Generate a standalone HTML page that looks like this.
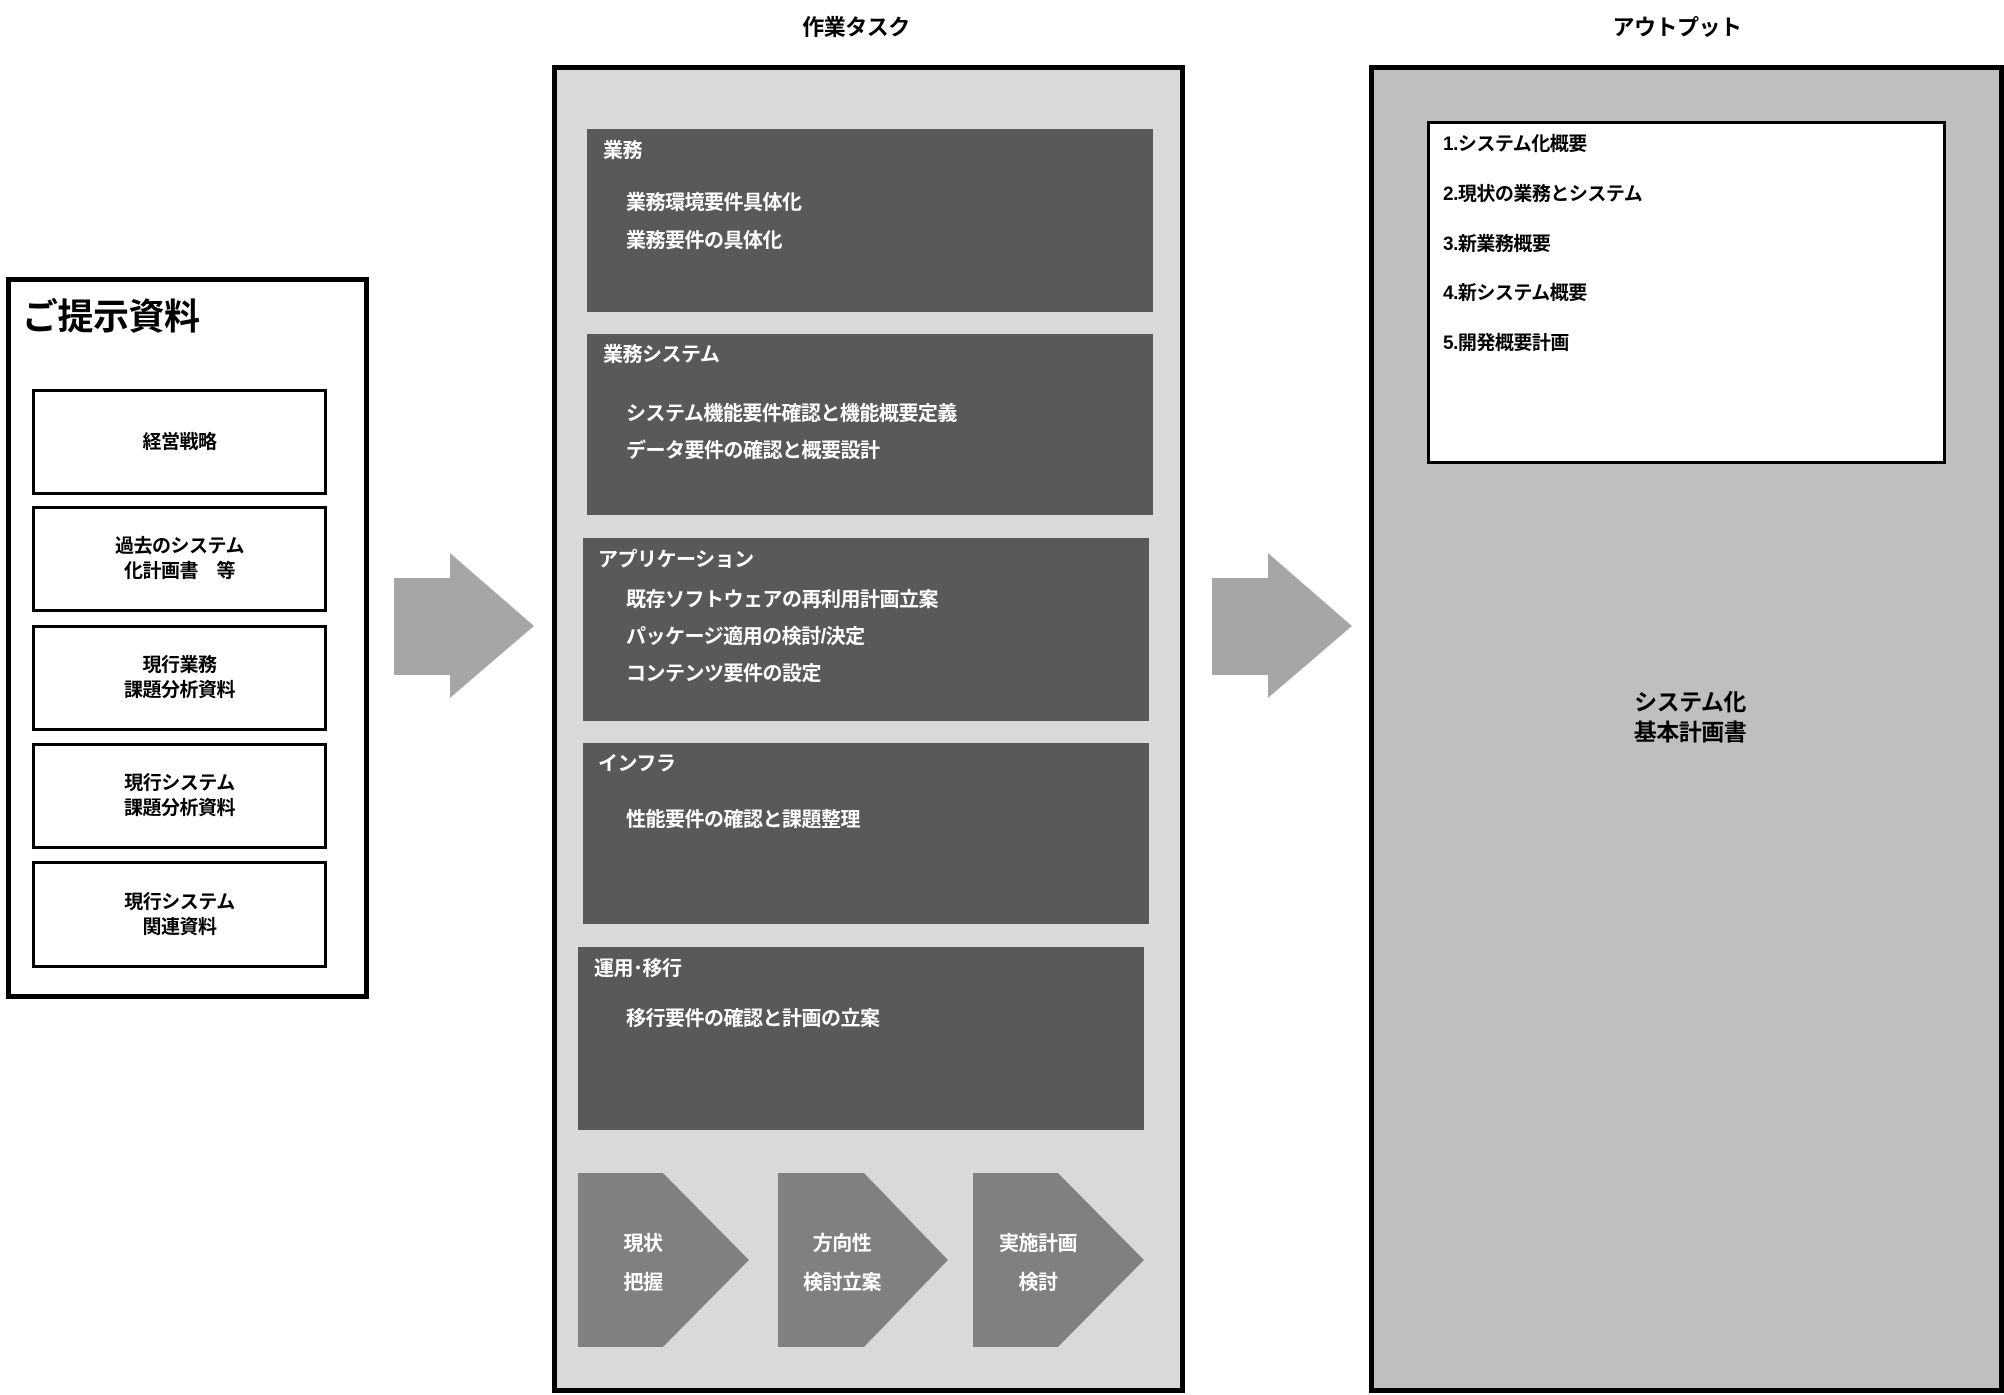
<!DOCTYPE html>
<html><head><meta charset="utf-8"><style>
html,body{margin:0;padding:0;background:#fff;}
body{width:2004px;height:1395px;position:relative;overflow:hidden;font-family:"Liberation Sans","Noto Sans CJK JP",sans-serif;font-weight:bold;}
.a{position:absolute;box-sizing:border-box;}
.t{position:absolute;white-space:nowrap;letter-spacing:-0.5px;}
.dk{background:#595959;}
.w{color:#fff;font-size:20px;}
.ib{border:3px solid #000;background:#fff;display:flex;align-items:center;justify-content:center;text-align:center;font-size:19px;line-height:25px;letter-spacing:-0.5px;}
.o{font-size:19px;color:#000;}
</style></head><body>
<!-- left -->
<div class="a" style="left:6px;top:277px;width:363px;height:722px;border:5px solid #000;background:#fff;"></div>
<div class="t" style="left:22px;top:288px;font-size:36px;">ご提示資料</div>
<div class="a ib" style="left:32px;top:389px;width:295px;height:106px;">経営戦略</div>
<div class="a ib" style="left:32px;top:506px;width:295px;height:106px;">過去のシステム<br>化計画書　等</div>
<div class="a ib" style="left:32px;top:625px;width:295px;height:106px;">現行業務<br>課題分析資料</div>
<div class="a ib" style="left:32px;top:743px;width:295px;height:106px;">現行システム<br>課題分析資料</div>
<div class="a ib" style="left:32px;top:861px;width:295px;height:107px;">現行システム<br>関連資料</div>
<!-- arrows -->
<svg class="a" style="left:0;top:0" width="2004" height="1395">
<polygon points="394,578 450,578 450,553 534,626 450,698 450,675 394,675" fill="#a6a6a6"/>
<polygon points="1212,578 1268,578 1268,553 1352,626 1268,698 1268,675 1212,675" fill="#a6a6a6"/>
</svg>
<!-- middle -->
<div class="t" style="left:856px;top:10px;transform:translateX(-50%);font-size:22px;">作業タスク</div>
<div class="a" style="left:552px;top:65px;width:633px;height:1328px;border:5px solid #000;background:#d9d9d9;"></div>
<div class="a dk" style="left:587px;top:129px;width:566px;height:183px;"></div>
<div class="t w" style="left:603px;top:134px;">業務</div>
<div class="t w" style="left:626px;top:186px;">業務環境要件具体化</div>
<div class="t w" style="left:626px;top:224px;">業務要件の具体化</div>
<div class="a dk" style="left:587px;top:334px;width:566px;height:181px;"></div>
<div class="t w" style="left:603px;top:338px;">業務システム</div>
<div class="t w" style="left:626px;top:397px;">システム機能要件確認と機能概要定義</div>
<div class="t w" style="left:626px;top:434px;">データ要件の確認と概要設計</div>
<div class="a dk" style="left:583px;top:538px;width:566px;height:183px;"></div>
<div class="t w" style="left:598px;top:543px;">アプリケーション</div>
<div class="t w" style="left:626px;top:583px;">既存ソフトウェアの再利用計画立案</div>
<div class="t w" style="left:626px;top:620px;">パッケージ適用の検討/決定</div>
<div class="t w" style="left:626px;top:657px;">コンテンツ要件の設定</div>
<div class="a dk" style="left:583px;top:743px;width:566px;height:181px;"></div>
<div class="t w" style="left:598px;top:747px;">インフラ</div>
<div class="t w" style="left:626px;top:803px;">性能要件の確認と課題整理</div>
<div class="a dk" style="left:578px;top:947px;width:566px;height:183px;"></div>
<div class="t w" style="left:594px;top:952px;">運用･移行</div>
<div class="t w" style="left:626px;top:1002px;">移行要件の確認と計画の立案</div>
<svg class="a" style="left:0;top:0" width="2004" height="1395">
<polygon points="578,1173 663,1173 749,1260 663,1347 578,1347" fill="#808080"/>
<polygon points="778,1173 864,1173 948,1260 864,1347 778,1347" fill="#808080"/>
<polygon points="973,1173 1058,1173 1144,1260 1058,1347 973,1347" fill="#808080"/>
</svg>
<div class="t w" style="left:643px;top:1227px;transform:translateX(-50%);">現状</div>
<div class="t w" style="left:643px;top:1266px;transform:translateX(-50%);">把握</div>
<div class="t w" style="left:842px;top:1227px;transform:translateX(-50%);">方向性</div>
<div class="t w" style="left:842px;top:1266px;transform:translateX(-50%);">検討立案</div>
<div class="t w" style="left:1038px;top:1227px;transform:translateX(-50%);">実施計画</div>
<div class="t w" style="left:1038px;top:1266px;transform:translateX(-50%);">検討</div>
<!-- right -->
<div class="t" style="left:1677px;top:10px;transform:translateX(-50%);font-size:22px;">アウトプット</div>
<div class="a" style="left:1369px;top:65px;width:635px;height:1328px;border:5px solid #000;background:#bfbfbf;"></div>
<div class="a" style="left:1427px;top:121px;width:519px;height:343px;border:3px solid #000;background:#fff;"></div>
<div class="t o" style="left:1443px;top:129px;">1.システム化概要</div>
<div class="t o" style="left:1443px;top:179px;">2.現状の業務とシステム</div>
<div class="t o" style="left:1443px;top:229px;">3.新業務概要</div>
<div class="t o" style="left:1443px;top:278px;">4.新システム概要</div>
<div class="t o" style="left:1443px;top:328px;">5.開発概要計画</div>
<div class="t" style="left:1690px;top:687px;transform:translateX(-50%);font-size:23px;text-align:center;line-height:30px;">システム化<br>基本計画書</div>
</body></html>
